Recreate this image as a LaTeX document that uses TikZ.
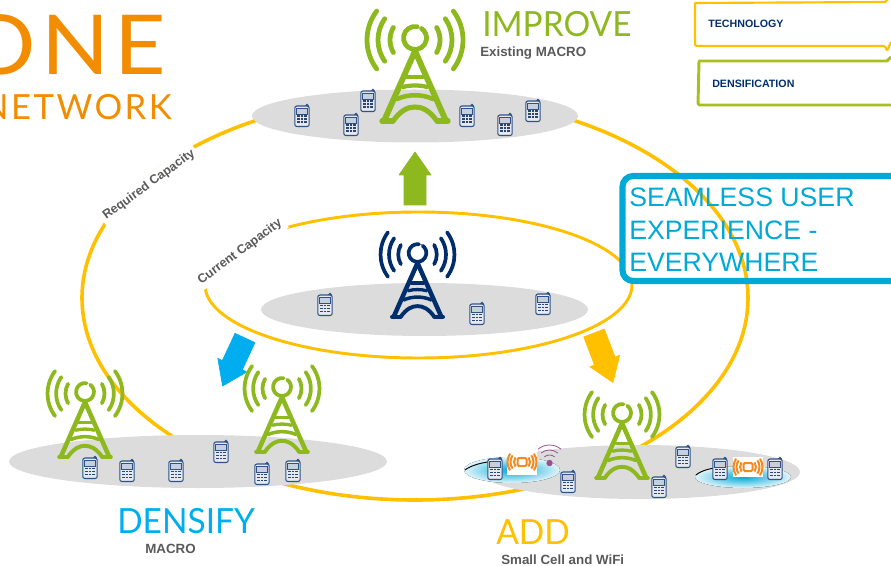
\documentclass[tikz,border=0pt]{standalone}
\usepackage{fontspec}
\setmainfont{Liberation Sans}
\newfontfamily\thinfont[FakeStretch=0.965]{Lato}
\newfontfamily\onefont[FakeStretch=1.08,LetterSpace=6]{Lato}
\newfontfamily\netfont[LetterSpace=7]{Lato}
\usetikzlibrary{shapes.geometric,calc}
\definecolor{ringyellow}{HTML}{FFC000}
\definecolor{towergreen}{HTML}{8DB81E}
\definecolor{boxgreen}{HTML}{A8BF1E}
\definecolor{navy}{HTML}{002D6C}
\definecolor{phoneblue}{HTML}{2F5285}
\definecolor{padgray}{HTML}{DCDCDC}
\definecolor{skyblue}{HTML}{00AEEF}
\definecolor{boxblue}{HTML}{00A9D6}
\definecolor{titleorange}{HTML}{F28C00}
\definecolor{labelgray}{HTML}{595959}
\definecolor{wifipurple}{HTML}{9B4F8E}
\definecolor{celorange}{HTML}{F58A1F}
\tikzset{
  ring/.style={draw=ringyellow,line width=2.7pt},
  pad/.style={fill=padgray,draw=none},
  ringlabel/.style={fill=white,text=labelgray,font=\fontsize{9.4}{11}\selectfont\bfseries,inner sep=2.5pt},
  sublabel/.style={text=labelgray,font=\fontsize{10}{12}\selectfont\bfseries,inner sep=0pt},
  title/.style={font=\fontsize{26}{30}\selectfont\thinfont,inner sep=0pt},
  legendtext/.style={text=navy,font=\fontsize{8}{10}\selectfont\bfseries,inner sep=0pt},
  seamtext/.style={anchor=base west,text=boxblue,inner sep=0pt,font=\fontsize{20}{24}\selectfont},
}
\newcommand{\towerpic}[4]{%
\begin{scope}[shift={(#1,#2)},x=.75pt,y=.75pt,scale=#3,line cap=round,line join=round]
  \draw[draw=#4,line width=#3*3.6pt] (80:11.5) arc[start angle=80,delta angle=335,radius=11.5];
  \foreach \r/\a in {25/30,37/35,48/37}{
    \draw[draw=#4,line width=#3*3.6pt] ($(0,-2)+(-\a:\r)$) arc[start angle=-\a,end angle=\a,radius=\r];
    \draw[draw=#4,line width=#3*3.6pt] ($(0,-2)+(180-\a:\r)$) arc[start angle=180-\a,end angle=180+\a,radius=\r];
  }
  \draw[draw=#4,line width=#3*4.4pt] (-31,-83) -- (0,-13) -- (31,-83);
  \draw[draw=#4,line width=#3*4pt] (-33,-83) -- (-22,-83) (22,-83) -- (33,-83);
  \draw[draw=#4,line width=#3*3.2pt] (-8,-39) -- (8,-39);
  \draw[draw=#4,line width=#3*3.2pt] (-12,-49) .. controls (-5,-47) and (5,-47) .. (12,-49);
  \draw[draw=#4,line width=#3*3.4pt] (-18,-61) .. controls (-7,-56) and (7,-56) .. (18,-61);
  \draw[draw=#4,line width=#3*3.8pt] (-22,-83) .. controls (-14,-72) and (-7,-69) .. (0,-69) .. controls (7,-69) and (14,-72) .. (22,-83);
\end{scope}}
\newcommand{\phonepic}[2]{%
\begin{scope}[shift={(#1,#2)},x=.75pt,y=.75pt]
  \fill[phoneblue] (5,10.5) circle (1.8);
  \draw[phoneblue,fill=white!88!phoneblue,line width=.8pt,rounded corners=1.6pt] (-7.2,-10.5) rectangle (7.2,10);
  \fill[white!72!phoneblue] (-5.5,1.5) rectangle (5.5,8);
  \draw[phoneblue,line width=.4pt] (-5.5,1.5) rectangle (5.5,8);
  \foreach \kx in {-4.9,-1.25,2.4}{\foreach \ky in {-1.4,-4.4,-7.4}{
    \fill[phoneblue!85!black] (\kx,\ky) rectangle +(2.5,1.9);}}
\end{scope}}
\newcommand{\cellpic}[4]{%
\begin{scope}[shift={(#1,#2)},x=.75pt,y=.75pt]
  \fill[white] (-#3,-#4) rectangle (#3,#4);
  \draw[celorange,line width=1.5pt,rounded corners=1pt] (-4.5,-4) rectangle (4.5,4);
  \foreach \r in {8,11.5,14.5}{
    \draw[celorange,line width=1.5pt] (-35:\r) arc[start angle=-35,end angle=35,radius=\r];
    \draw[celorange,line width=1.5pt] (145:\r) arc[start angle=145,end angle=215,radius=\r];
  }
\end{scope}}
\newcommand{\blockarrow}[4]{%
\begin{scope}[shift={(#1,#2)},rotate=#3,x=.75pt,y=.75pt,line join=round]
  \fill[#4,draw=#4,line width=.5pt] (0,-11) -- (30,-11) -- (30,-16) -- (53,0) -- (30,16) -- (30,11) -- (0,11) -- cycle;
\end{scope}}
\begin{document}
\begin{tikzpicture}[x=.75pt,y=-.75pt]
\useasboundingbox (0,0) rectangle (891,566);
\clip (0,0) rectangle (891,566);
% rings
\draw[ring,line width=2.2pt] (418.5,285) ellipse [x radius=213.5,y radius=73];
\fill[white,rounded corners=9pt] (622,175) rectangle (900,282);
\draw[ring] (415,298) ellipse [x radius=333,y radius=202];
% legend boxes
\draw[draw=ringyellow,line width=1.6pt,line join=round] (888,-1) -- (885,2) -- (695,3) [rounded corners=1pt] -- (695,46) -- (885,46) -- (887,51) -- (891,42);
\draw[draw=boxgreen,line width=2.2pt,line join=round] (891,57) -- (887,61) -- (699,61) [rounded corners=1.5pt] -- (698,105) -- (891,105);
\node[legendtext,anchor=west] (tech) at (708,24) {TECHNOLOGY};
\node[legendtext,anchor=west] (dens) at (712,84) {DENSIFICATION};
% ring labels
\node[ringlabel,rotate=36] (req) at (149,185) {Required Capacity};
\node[ringlabel,rotate=36.5] (cur) at (240,252) {Current Capacity};
% pads
\fill[pad] (415,116) ellipse [x radius=163,y radius=26.5];
\fill[pad] (424.5,309.5) ellipse [x radius=163.5,y radius=26.5];
\fill[pad] (198,461.5) ellipse [x radius=189,y radius=26.5];
\fill[pad] (640,472) ellipse [x radius=160,y radius=27];
% block arrows
\blockarrow{415}{205}{90}{towergreen}
\blockarrow{245}{338}{245}{skyblue}
\blockarrow{594}{333}{-69}{ringyellow}
% hot spots
\fill[inner color=boxblue,outer color=boxblue!12] (512,470) ellipse [x radius=48,y radius=13];
\fill[inner color=boxblue,outer color=boxblue!12] (743,477) ellipse [x radius=48,y radius=11];
\draw[black,line width=.7pt] (465,470) .. controls (470,466) and (480,463) .. (488,462);
\draw[black,line width=.7pt] (696,475) .. controls (702,470) and (712,468) .. (722,467);
% towers
\towerpic{415}{38}{1}{towergreen}
\towerpic{417.5}{253}{.77}{navy}
\towerpic{85}{392}{.78}{towergreen}
\towerpic{282}{387}{.78}{towergreen}
\towerpic{622}{413}{.78}{towergreen}
% phones
\phonepic{302}{116}\phonepic{351}{125}\phonepic{368}{101}\phonepic{467}{116}\phonepic{505}{125}\phonepic{533}{111}
\phonepic{325}{305}\phonepic{477}{314}\phonepic{543}{304}
\phonepic{90}{468}\phonepic{127}{471}\phonepic{176}{471}\phonepic{221}{452}\phonepic{262}{474}\phonepic{293}{471}
\phonepic{495}{469}\phonepic{568}{482}\phonepic{683}{457}\phonepic{659}{487}\phonepic{720}{469}\phonepic{775}{469}
% small cells
\cellpic{522}{462}{15}{13}
\cellpic{748}{467}{15}{10}
% wifi
\fill[wifipurple] (549.5,463) circle (3.2*.75pt);
\begin{scope}[shift={(549.5,463)},x=.75pt,y=.75pt]
\foreach \r in {8,13,18}{\draw[wifipurple,line width=.6pt] (50:\r) arc[start angle=50,end angle=130,radius=\r];}
\end{scope}
% seamless box
\draw[draw=boxblue,line width=4.6pt,rounded corners=8pt] (622.5,176) rectangle (905,281);
\node[seamtext] (seam) at (629,207) {SEAMLESS USER};
\node[seamtext] (seamb) at (629,240) {EXPERIENCE -};
\node[seamtext] (seamc) at (629,272) {EVERYWHERE};
% titles
\node[title,text=towergreen,anchor=base west] (improve) at (482,37) {IMPROVE};
\node[sublabel,anchor=base west] (existing) at (480,57) {Existing MACRO};
\node[title,text=skyblue,anchor=base west] (densify) at (117,533) {DENSIFY};
\node[sublabel,anchor=base west] (macro) at (145,553) {MACRO};
\node[title,text=ringyellow,anchor=base west] (add) at (496,544) {ADD};
\node[sublabel,anchor=base west] (small) at (501,564) {Small Cell and WiFi};
\node[text=titleorange,anchor=base east,inner sep=0pt,font=\fontsize{62}{70}\selectfont\onefont] (one) at (166,75) {ONE};
\node[text=titleorange,anchor=base east,inner sep=0pt,font=\fontsize{26}{30}\selectfont\netfont] (network) at (172,120) {NETWORK};
\end{tikzpicture}
\end{document}
